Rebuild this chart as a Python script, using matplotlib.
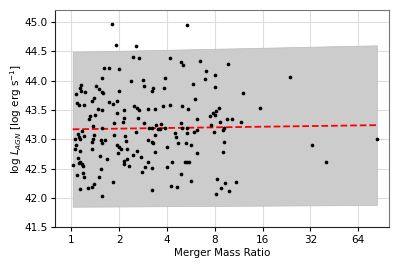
import matplotlib
matplotlib.use("Agg")
import matplotlib.pyplot as plt
import numpy as np

# Merger mass ratio (x) and log L_AGN (y)
ratio = [1.80, 1.92, 1.60, 1.73, 2.01, 1.57, 1.15, 1.14, 1.43, 1.50,
         1.55, 1.58, 1.07, 1.22, 1.15, 1.39, 1.34, 2.00, 1.09, 1.12,
         1.21, 1.73, 1.83, 1.95, 1.48, 1.57, 2.16, 1.41, 1.32, 1.29,
         1.95, 2.14, 1.85, 2.10, 1.37, 1.57, 1.17, 1.10, 1.13, 1.12,
         1.20, 1.38, 1.36, 1.35, 1.06, 1.54, 1.63, 1.56, 1.86, 2.19,
         1.07, 1.06, 1.13, 1.35, 1.95, 1.99, 2.04, 1.97, 2.24, 1.10,
         1.14, 1.12, 1.17, 1.18, 1.51, 1.68, 1.02, 2.23, 2.16, 2.14,
         1.54, 1.09, 1.19, 1.21, 1.49, 1.83, 1.39, 1.34, 1.27, 1.13,
         1.57, 5.36, 2.57, 2.44, 2.65, 4.19, 4.93, 5.06, 2.38, 2.82,
         3.86, 2.85, 3.28, 3.22, 3.84, 2.49, 2.60, 2.65, 3.02, 3.36,
         3.77, 4.19, 4.98, 5.46, 2.62, 2.88, 3.09, 3.20, 3.41, 3.51,
         3.59, 3.68, 3.86, 4.89, 4.98, 5.38, 2.22, 2.54, 3.37, 3.03,
         3.20, 3.28, 4.55, 4.50, 4.72, 5.38, 5.30, 4.03, 3.37, 2.59,
         2.45, 2.75, 2.32, 3.05, 2.89, 2.79, 3.20, 4.01, 4.31, 5.23,
         5.38, 4.91, 4.27, 4.62, 3.22, 6.50, 9.70, 7.02, 8.07, 6.92,
         5.84, 8.07, 12.10, 6.02, 8.51, 8.15, 7.77, 8.04, 7.47, 6.22,
         9.60, 10.28, 8.60, 11.76, 7.62, 5.93, 6.17, 7.96, 8.98, 9.15,
         9.11, 5.70, 9.02, 6.17, 5.49, 5.65, 8.31, 9.25, 8.77, 10.84,
         8.19, 9.80, 23.7, 15.34, 32.7, 83.8, 39.9]
log_lagn = [44.96, 44.60, 44.21, 44.22, 44.20, 44.04, 43.92, 43.88, 43.91, 43.85,
            43.80, 43.79, 43.77, 43.80, 43.82, 43.70, 43.66, 43.82, 43.62, 43.59,
            43.59, 43.63, 43.60, 43.65, 43.51, 43.50, 43.49, 43.42, 43.39, 43.35,
            43.44, 43.36, 43.28, 43.30, 43.22, 43.20, 43.14, 43.09, 43.00, 43.03,
            43.05, 43.08, 43.00, 42.96, 43.01, 42.99, 42.98, 42.93, 43.07, 43.06,
            42.91, 42.83, 42.80, 42.84, 42.90, 42.86, 42.84, 42.77, 42.83, 42.68,
            42.61, 42.59, 42.58, 42.54, 42.72, 42.67, 42.56, 42.67, 42.63, 42.57,
            42.50, 42.39, 42.43, 42.35, 42.36, 42.28, 42.24, 42.19, 42.17, 42.15,
            42.04, 44.95, 44.59, 44.40, 44.38, 44.39, 44.31, 44.27, 44.00, 44.01,
            44.05, 43.91, 43.88, 43.82, 43.87, 43.56, 43.53, 43.49, 43.52, 43.52,
            43.57, 43.59, 43.57, 43.51, 43.36, 43.28, 43.20, 43.20, 43.24, 43.17,
            43.18, 43.26, 43.20, 43.28, 43.19, 43.19, 42.97, 43.12, 43.08, 42.98,
            42.95, 42.93, 43.04, 43.11, 42.94, 43.11, 42.93, 42.86, 42.78, 42.80,
            42.73, 42.70, 42.54, 42.61, 42.52, 42.44, 42.51, 42.53, 42.61, 42.62,
            42.61, 42.40, 42.21, 42.18, 42.13, 44.33, 44.29, 44.16, 44.10, 44.02,
            43.94, 43.89, 43.79, 43.68, 43.53, 43.48, 43.44, 43.41, 43.40, 43.35,
            43.34, 43.35, 43.30, 43.30, 43.24, 43.12, 43.15, 43.13, 43.16, 43.20,
            42.96, 42.90, 42.79, 42.76, 42.61, 42.29, 42.33, 42.25, 42.17, 42.28,
            42.07, 42.11, 44.06, 43.54, 42.91, 43.00, 42.61]

# Fit line and band, evaluated at the ends of the data range
fit_ends = [43.17, 43.24]
band_upper = [44.49, 44.60]
band_lower = [41.85, 41.88]

xticks = [1, 2, 4, 8, 16, 32, 64]
yticks = [41.5, 42.0, 42.5, 43.0, 43.5, 44.0, 44.5, 45.0]

fig = plt.figure(figsize=(3.99, 2.66), dpi=100)
ax = fig.add_axes([0.138, 0.1455, 0.837, 0.8165])

xends = [min(ratio), max(ratio)]
ax.fill_between(xends, band_lower, band_upper, color="#cccccc", zorder=1,
                linewidth=0.5, edgecolor="#bbbbbb")
ax.plot(xends, fit_ends, color="red", linestyle="--", linewidth=1.3, zorder=3)
ax.scatter(ratio, log_lagn, s=7, color="black", zorder=4, linewidths=0)

ax.set_xscale("log", base=2)
ax.set_xlim(0.79, 100)
ax.set_ylim(41.5, 45.2)
ax.set_xticks(xticks)
ax.set_xticklabels([str(t) for t in xticks])
ax.minorticks_off()
ax.set_yticks(yticks)
ax.set_yticklabels([f"{t:.1f}" for t in yticks])
ax.grid(True, color="#dddddd", linewidth=0.8, zorder=0)
ax.set_axisbelow(True)

ax.tick_params(labelsize=7.5, length=3, width=0.8, direction="out", colors="black", pad=2.5)
for side in ["top", "right"]:
    ax.spines[side].set_color("#777777")
for side in ["left", "bottom"]:
    ax.spines[side].set_color("#222222")

ax.set_xlabel("Merger Mass Ratio", fontsize=7.5, labelpad=2)
ax.set_ylabel(r"log $L_{AGN}$ [log erg s$^{-1}$]", fontsize=7.5)
ax.yaxis.set_label_coords(-0.092, 0.5)

fig.savefig("out.png", dpi=100)
